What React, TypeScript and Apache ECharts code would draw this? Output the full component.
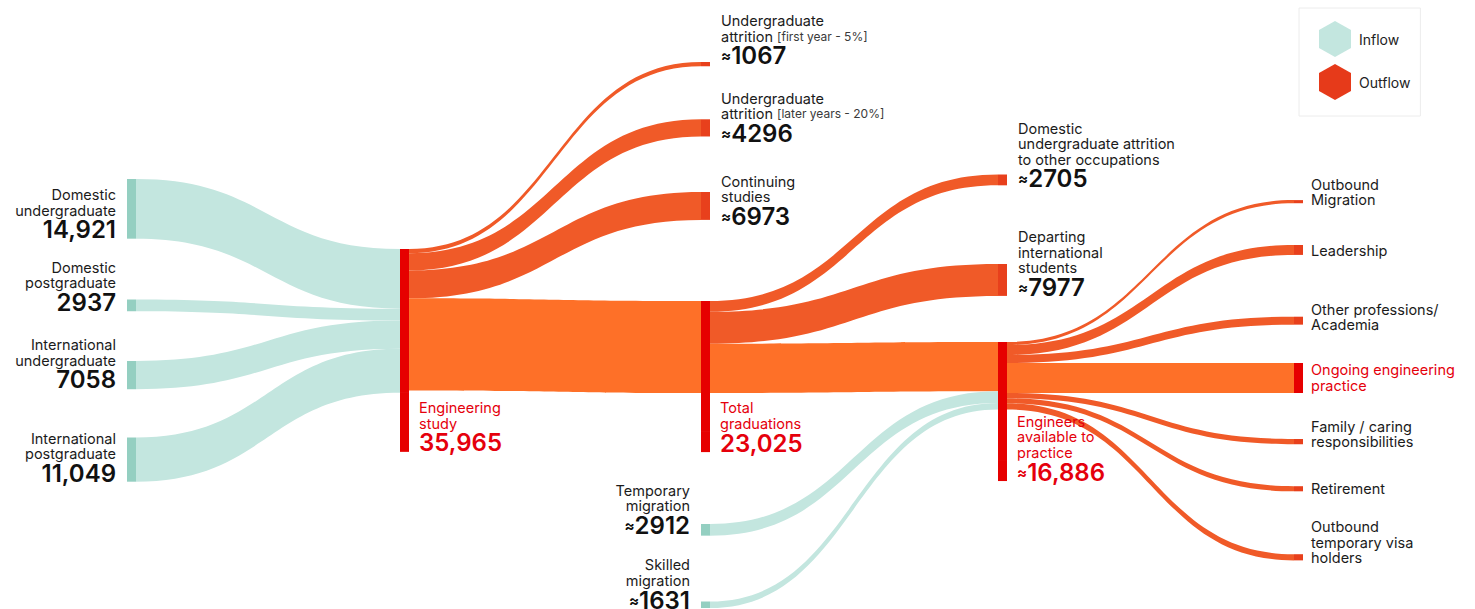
import React, { useEffect, useRef } from 'react';
import * as echarts from 'echarts';

// ---------------- data ----------------
const nodeIds = ['du', 'dp', 'iu', 'ip', 'es', 'a1', 'a2', 'cs', 'tg', 'tm', 'sm', 'da', 'di', 'ea', 'om', 'ld', 'op', 'oe', 'fc', 'rt', 'ot'];
const nodeLabels = [
  'Domestic\nundergraduate',
  'Domestic\npostgraduate',
  'International\nundergraduate',
  'International\npostgraduate',
  'Engineering\nstudy',
  'Undergraduate\nattrition [first year - 5%]',
  'Undergraduate\nattrition [later years - 20%]',
  'Continuing\nstudies',
  'Total\ngraduations',
  'Temporary\nmigration',
  'Skilled\nmigration',
  'Domestic\nundergraduate attrition\nto other occupations',
  'Departing\ninternational\nstudents',
  'Engineers\navailable to\npractice',
  'Outbound\nMigration',
  'Leadership',
  'Other professions/\nAcademia',
  'Ongoing engineering\npractice',
  'Family / caring\nresponsibilities',
  'Retirement',
  'Outbound\ntemporary visa\nholders',
];
const nodeDepth = [0, 0, 0, 0, 1, 2, 2, 2, 2, 2, 2, 3, 3, 3, 4, 4, 4, 4, 4, 4, 4];
// how the node's number is printed
const nodeNumber = ['plain', 'plain', 'plain', 'plain', 'plain', 'approx', 'approx', 'approx', 'plain', 'approx', 'approx', 'approx', 'approx', 'approx', 'none', 'none', 'none', 'none', 'none', 'none', 'none'];
const nodeRole = ['inflow', 'inflow', 'inflow', 'inflow', 'stage', 'outflow', 'outflow', 'outflow', 'stage', 'inflow', 'inflow', 'outflow', 'outflow', 'stage', 'outflow', 'outflow', 'outflow', 'stage', 'outflow', 'outflow', 'outflow'];

const linkSource = ['du', 'dp', 'iu', 'ip', 'es', 'es', 'es', 'es', 'tg', 'tg', 'tg', 'tm', 'sm', 'ea', 'ea', 'ea', 'ea', 'ea', 'ea', 'ea'];
const linkTarget = ['es', 'es', 'es', 'es', 'a1', 'a2', 'cs', 'tg', 'da', 'di', 'ea', 'ea', 'ea', 'om', 'ld', 'op', 'oe', 'fc', 'rt', 'ot'];
const linkValue = [14921, 2937, 7058, 11049, 1067, 4296, 6973, 23025, 2705, 7977, 12343, 2912, 1631, 780, 2480, 1990, 7500, 1313, 1278, 1545];

const legendNames = ['Inflow', 'Outflow'];

// ---------------- layout (px) ----------------
const W = 1475;
const KY = 0.004; // px per person
const NODE_W = 9;
const nodeLeft = [127, 127, 127, 127, 400, 701, 701, 701, 701, 701, 701, 998, 998, 998, 1294, 1294, 1294, 1294, 1294, 1294, 1294];
const nodeTop = [179, 299.5, 361, 437.5, 249, 62, 119.3, 192, 301, 524, 601.5, 174.5, 264, 342, 200.1, 245, 316.7, 363, 439, 486.2, 554.2];
const labelDy = [3.2, 3.1, 2.7, 3.6, 0, 1.6, 8.8, 8.7, 0, 2, 4, 5.6, 3.4, 0, 4.1, 3.4, 7.6, 0, 5.3, 5, 5.2];
const barSpacer = [0, 0, 0, 0, 7, 0, 0, 0, 7, 0, 0, 0, 0, 4, 0, 0, 0, 0, 0, 0, 0];

// ---------------- styles ----------------
const FONT = 'Inter, "Noto Sans", sans-serif';
const DARK = '#1b1b1b';
const RED_TEXT = '#e5000c';
const TEAL_NODE = '#94cfc1';
const TEAL_LINK = '#c3e6df';
const STAGE_RED = '#e60000';
const OUT_NODE = '#e8401c';
const OUT_LINK = '#f05a28';
const MAIN_LINK = '#fe7028';
const LEGEND_OUT = '#e63a1a';

const nodeColor: Record<string, string> = { inflow: TEAL_NODE, stage: STAGE_RED, outflow: OUT_NODE };

const nodeTotal = nodeIds.map((id) => {
  let inSum = 0;
  let outSum = 0;
  linkSource.forEach((s, k) => { if (s === id) outSum += linkValue[k]; });
  linkTarget.forEach((t, k) => { if (t === id) inSum += linkValue[k]; });
  return Math.max(inSum, outSum);
});

const colSums: number[] = [];
nodeTotal.forEach((v, i) => { colSums[nodeDepth[i]] = (colSums[nodeDepth[i]] || 0) + v; });
const H = KY * Math.max(...colSums);

const fmtNum = (v: number) => (v >= 10000 ? v.toLocaleString('en-US') : String(v));

function buildLabel(i: number): string {
  const red = nodeRole[i] === 'stage';
  const withBar = red && nodeDepth[i] < 4;
  const t = red ? 'tr' : 't';
  const lines = nodeLabels[i].split('\n').map((line) => {
    const m = line.match(/^(.*?)\s*(\[[^\]]*\])$/);
    const body = m ? `{${t}|${m[1]} }{s|${m[2]}}` : `{${t}|${line}}`;
    return withBar ? `{bt|}{g|}${body}` : body;
  });
  if (nodeNumber[i] !== 'none') {
    const a = red ? 'ar' : 'a';
    const n = red ? 'nr' : 'n';
    const num = (nodeNumber[i] === 'approx' ? `{${a}|≈}` : '') + `{${n}|${fmtNum(nodeTotal[i])}}`;
    lines.push(withBar ? `{bn|}{g|}${num}` : num);
  }
  if (withBar) lines.unshift(`{bs${barSpacer[i]}|}`);
  return lines.join('\n');
}
const labelTexts = nodeIds.map((_, i) => buildLabel(i));

function labelCfg(i: number) {
  const h = nodeTotal[i] * KY;
  const role = nodeRole[i];
  const d = nodeDepth[i];
  if (role === 'stage' && d < 4) {
    return { position: [0, h], align: 'left', verticalAlign: 'top' };
  }
  if (role === 'inflow') {
    return { position: [-11, h + labelDy[i]], align: 'right', verticalAlign: 'bottom' };
  }
  if (d === 4) {
    return { position: [NODE_W + 8, h + labelDy[i]], align: 'left', verticalAlign: 'bottom' };
  }
  return { position: [NODE_W + 11, h + labelDy[i]], align: 'left', verticalAlign: 'bottom' };
}

function linkColor(k: number): string {
  const si = nodeIds.indexOf(linkSource[k]);
  const ti = nodeIds.indexOf(linkTarget[k]);
  if (nodeRole[si] === 'inflow') return TEAL_LINK;
  if (nodeRole[si] === 'stage' && nodeRole[ti] === 'stage') return MAIN_LINK;
  return OUT_LINK;
}

// bar tokens are drawn 1px taller than their line so neighbouring pieces overlap (no seams)
const rich: Record<string, any> = {
  t: { fontFamily: FONT, fontSize: 14.5, lineHeight: 15.5, color: DARK },
  tr: { fontFamily: FONT, fontSize: 14.5, lineHeight: 15.5, color: RED_TEXT },
  s: { fontFamily: FONT, fontSize: 12, lineHeight: 15.5, color: '#3a3a3a' },
  n: { fontFamily: FONT, fontSize: 24, fontWeight: 600, lineHeight: 24, color: '#111' },
  nr: { fontFamily: FONT, fontSize: 24, fontWeight: 600, lineHeight: 24, color: RED_TEXT },
  a: { fontFamily: FONT, fontSize: 15, fontWeight: 700, lineHeight: 24, color: '#111' },
  ar: { fontFamily: FONT, fontSize: 15, fontWeight: 700, lineHeight: 24, color: RED_TEXT },
  bt: { width: NODE_W, height: 16.7, lineHeight: 15.5, backgroundColor: STAGE_RED },
  bn: { width: NODE_W, height: 21, lineHeight: 21, verticalAlign: 'top', backgroundColor: STAGE_RED },
  bs7: { width: NODE_W, height: 8.5, lineHeight: 7, backgroundColor: STAGE_RED },
  bs4: { width: NODE_W, height: 5.5, lineHeight: 4, backgroundColor: STAGE_RED },
  g: { width: 10, fontSize: 10, lineHeight: 10 },
};

const HEX = 'path://M16,0 L32,9 L32,27 L16,36 L0,27 L0,9 Z';

export default function App() {
  const ref = useRef<HTMLDivElement>(null);
  useEffect(() => {
    if (!ref.current) return;
    const chart = echarts.init(ref.current, null, { renderer: 'svg' });
    const option: any = {
      animation: false,
      backgroundColor: '#ffffff',
      legend: {
        left: 1299,
        top: 8,
        orient: 'vertical',
        padding: [13, 10, 16, 20],
        itemGap: 7,
        itemWidth: 32,
        itemHeight: 36,
        borderColor: '#ececec',
        borderWidth: 1,
        selectedMode: false,
        icon: HEX,
        textStyle: { fontFamily: FONT, fontSize: 14, color: '#222', padding: [0, 0, 0, 3] },
        data: [
          { name: legendNames[0], itemStyle: { color: TEAL_LINK } },
          { name: legendNames[1], itemStyle: { color: LEGEND_OUT } },
        ],
      },
      series: [
        {
          type: 'sankey',
          left: 0,
          top: 0,
          width: W,
          height: H,
          nodeWidth: NODE_W,
          nodeGap: 0,
          layoutIterations: 0,
          draggable: false,
          emphasis: { disabled: true },
          label: {
            show: true,
            formatter: (p: any) => (p.dataType === 'node' ? labelTexts[p.dataIndex] : ''),
            rich,
          },
          data: nodeIds.map((id, i) => ({
            name: id,
            depth: nodeDepth[i],
            localX: nodeLeft[i] / W,
            localY: nodeTop[i] / H,
            itemStyle: { color: nodeColor[nodeRole[i]], borderWidth: 0 },
            label: labelCfg(i),
          })),
          links: linkSource.map((s, k) => ({
            source: s,
            target: linkTarget[k],
            value: linkValue[k],
            lineStyle: { color: linkColor(k), opacity: 1, curveness: 0.5 },
          })),
        },
        { type: 'pie', name: legendNames[0], data: [], showEmptyCircle: false, silent: true, itemStyle: { color: TEAL_LINK } },
        { type: 'pie', name: legendNames[1], data: [], showEmptyCircle: false, silent: true, itemStyle: { color: LEGEND_OUT } },
      ],
    };
    chart.setOption(option);
    return () => chart.dispose();
  }, []);
  return <div ref={ref} style={{ position: 'fixed', left: 0, top: 0, width: 1475, height: 609, background: '#fff' }} />;
}
